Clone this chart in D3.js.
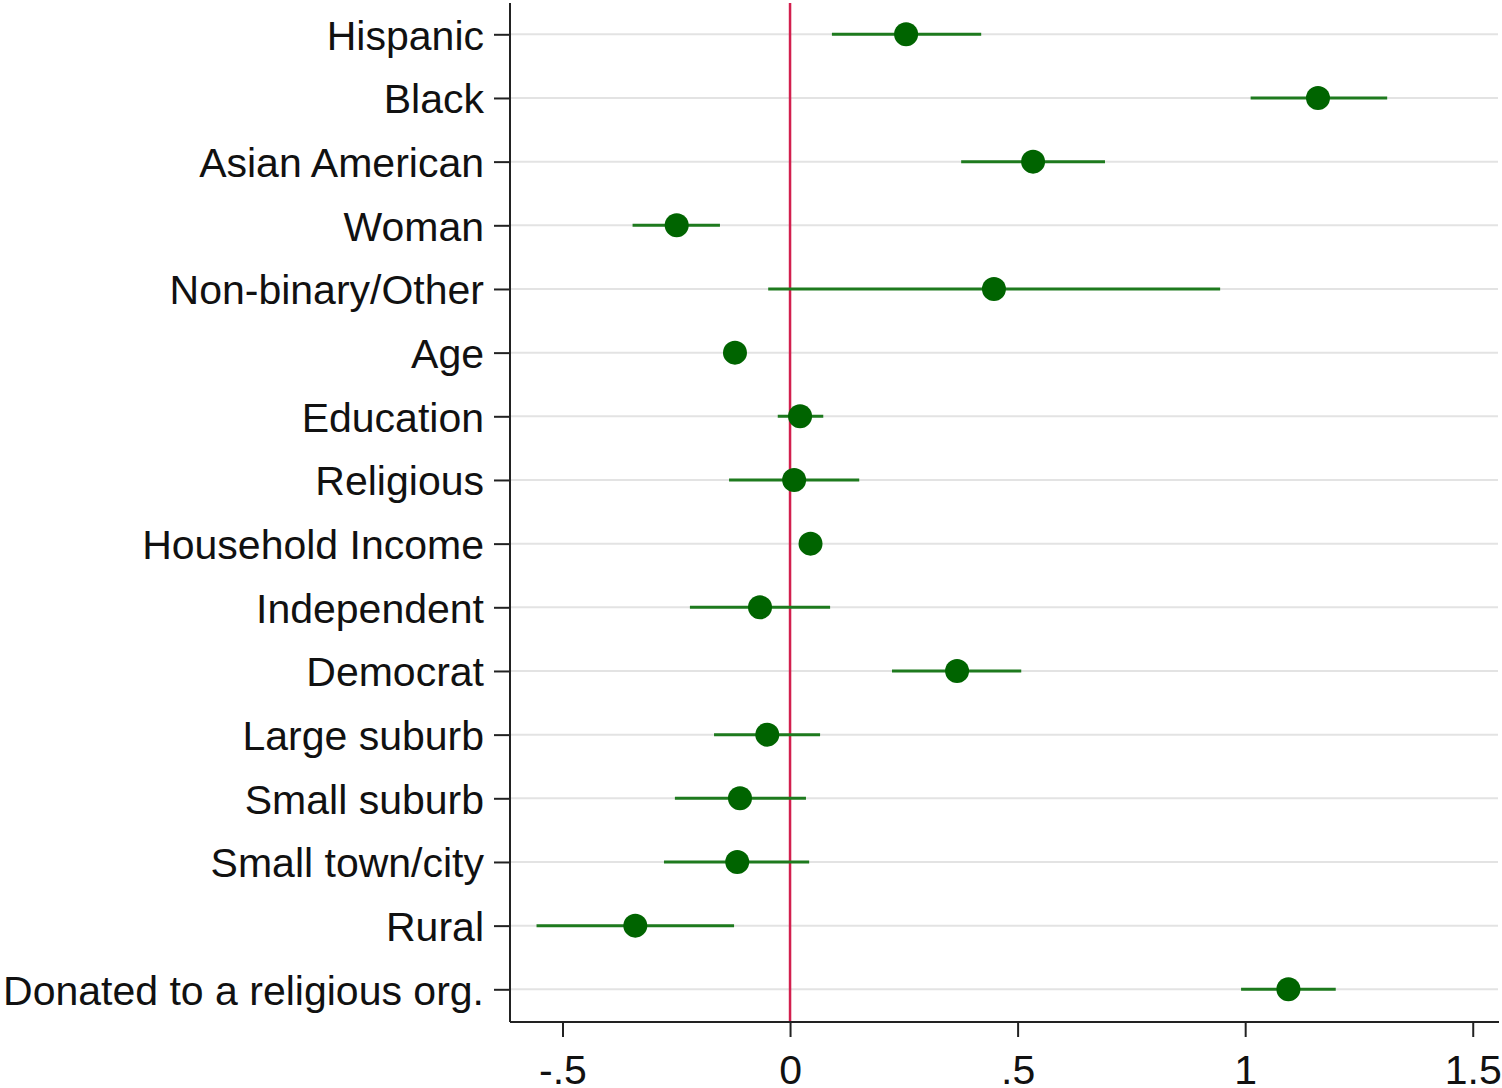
<!DOCTYPE html>
<html>
<head>
<meta charset="utf-8">
<script src="https://cdn.jsdelivr.net/npm/d3@7"></script>
<style>
html,body{margin:0;padding:0;background:#fff;}
svg{display:block;}
</style>
</head>
<body>
<svg id="chart" width="1502" height="1088"></svg>
<script>
const categories = ["Hispanic","Black","Asian American","Woman","Non-binary/Other","Age","Education","Religious","Household Income","Independent","Democrat","Large suburb","Small suburb","Small town/city","Rural","Donated to a religious org."];
const estimates = [0.255, 1.160, 0.534, -0.249, 0.448, -0.121, 0.022, 0.009, 0.045, -0.066, 0.367, -0.050, -0.110, -0.116, -0.340, 1.095];
const ciLow  = [0.092, 1.012, 0.376, -0.346, -0.048, -0.140, -0.027, -0.134, 0.030, -0.220, 0.224, -0.167, -0.253, -0.277, -0.557, 0.991];
const ciHigh = [0.420, 1.312, 0.692, -0.154, 0.945, -0.100, 0.073, 0.152, 0.060, 0.088, 0.508, 0.066, 0.035, 0.042, -0.123, 1.199];
const xTicks = [-0.5, 0, 0.5, 1, 1.5];
const xTickLabels = ["-.5", "0", ".5", "1", "1.5"];

const svg = d3.select("#chart");
const pLeft = 510, pRight = 1499, pTop = 3, pBottom = 1022;
const x = d3.scaleLinear().domain([-0.6153, 1.5577]).range([pLeft, pRight]);
const y = d3.scalePoint().domain(categories).range([34.3, 989.3]);

// gridlines
svg.append("g").selectAll("line").data(categories).join("line")
  .attr("x1", pLeft).attr("x2", pRight - 1)
  .attr("y1", d => y(d)).attr("y2", d => y(d))
  .attr("stroke", "#e3e3e3").attr("stroke-width", 2);

// zero line
svg.append("line")
  .attr("x1", x(0)).attr("x2", x(0)).attr("y1", pTop).attr("y2", pBottom)
  .attr("stroke", "#d21f4e").attr("stroke-width", 2.5);

// y axis
const yAxis = d3.axisLeft(y).tickSize(16).tickPadding(10);
const gy = svg.append("g").attr("transform", `translate(${pLeft},0)`).call(yAxis);
gy.select(".domain").attr("d", `M0,${pTop}V${pBottom}`).attr("stroke", "#222").attr("stroke-width", 2);
gy.selectAll(".tick line").attr("stroke", "#222").attr("stroke-width", 2);
gy.selectAll(".tick text").attr("font-family", "Liberation Sans, Arial, sans-serif")
  .attr("font-size", 41).attr("fill", "#111").attr("dy", "0.36em");

// x axis
const xAxis = d3.axisBottom(x).tickValues(xTicks).tickFormat((d, i) => xTickLabels[i]).tickSize(15).tickPadding(18);
const gx = svg.append("g").attr("transform", `translate(0,${pBottom})`).call(xAxis);
gx.select(".domain").attr("d", `M${pLeft},0H${pRight}`).attr("stroke", "#222").attr("stroke-width", 2);
gx.selectAll(".tick line").attr("stroke", "#222").attr("stroke-width", 2);
gx.selectAll(".tick text").attr("font-family", "Liberation Sans, Arial, sans-serif")
  .attr("font-size", 41).attr("fill", "#111");

// CIs
svg.append("g").selectAll("line").data(categories).join("line")
  .attr("x1", (d, i) => x(ciLow[i])).attr("x2", (d, i) => x(ciHigh[i]))
  .attr("y1", d => y(d)).attr("y2", d => y(d))
  .attr("stroke", "#1e7a1e").attr("stroke-width", 3);

// points
svg.append("g").selectAll("circle").data(categories).join("circle")
  .attr("cx", (d, i) => x(estimates[i])).attr("cy", d => y(d))
  .attr("r", 12).attr("fill", "#006400");
</script>
</body>
</html>
